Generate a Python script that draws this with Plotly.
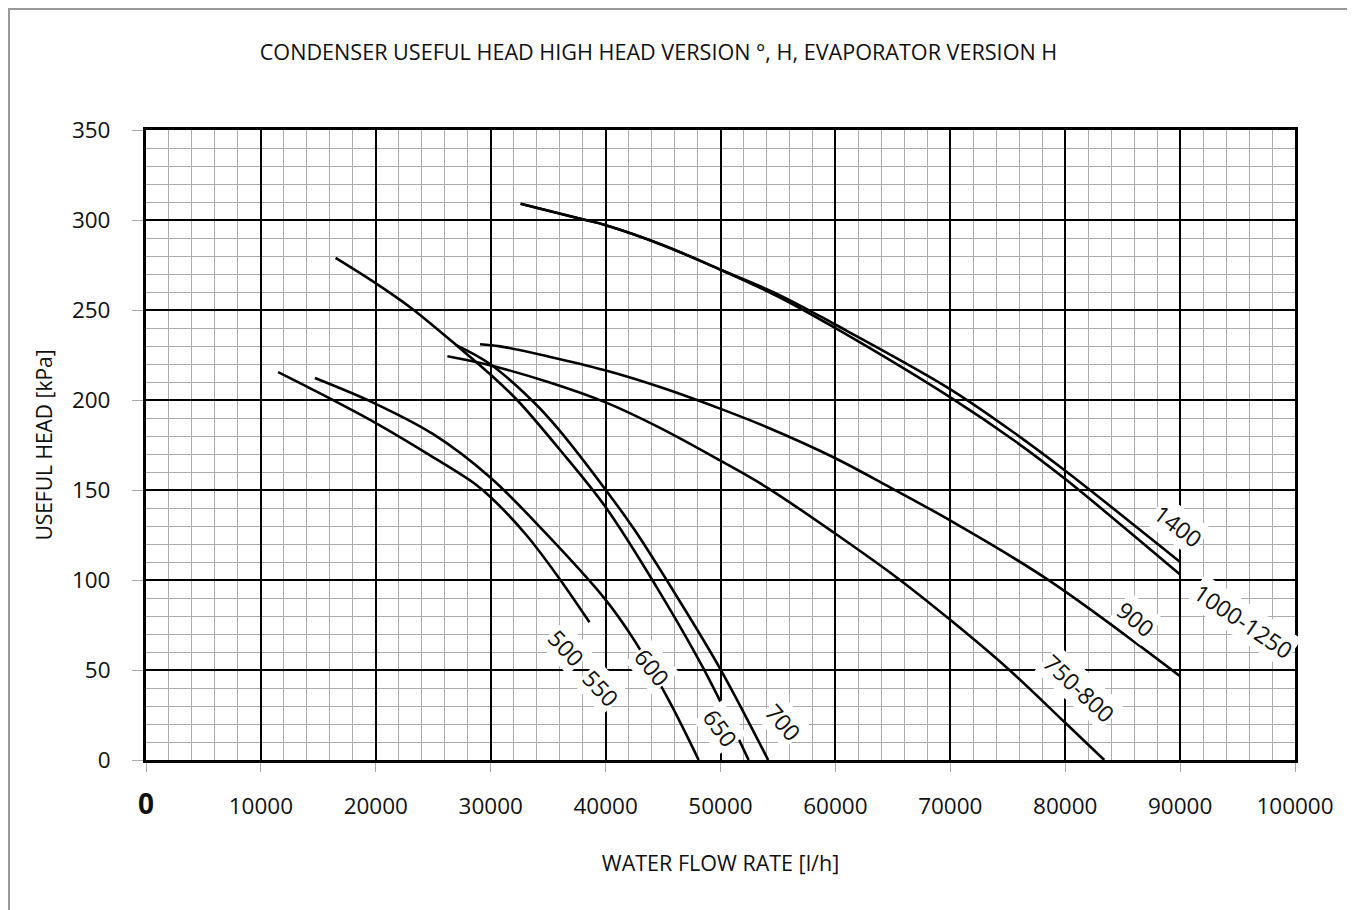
import plotly.graph_objects as go

# ---------------- data ----------------
x_500_550 = [11500, 14500, 19850, 24400, 28500, 30000, 33100, 36000, 38600]
y_500_550 = [215.5, 205.8, 187.7, 170.5, 154, 146, 125, 100.6, 76.5]

x_600 = [14700, 19850, 25000, 29940, 34580, 39950, 42350, 45450, 48100]
y_600 = [212.2, 198.3, 181, 157.1, 127.4, 89.4, 68, 33.8, 0]

x_650 = [16500, 19850, 23100, 27000, 30000, 32300, 36000, 40000, 44400, 48500, 52450]
y_650 = [279, 265.5, 251, 230.5, 214, 200, 172.5, 140.5, 96.5, 51, 0]

x_700 = [27000, 29940, 33710, 36000, 39950, 42500, 45890, 49960, 54150]
y_700 = [230.5, 220, 199, 183, 150.6, 128, 94, 50.8, 0]

x_750_800 = [26230, 29940, 35000, 39950, 44730, 49960, 54020, 59820, 65500, 69910, 74900, 79980, 83400]
y_750_800 = [224.3, 219.3, 210, 198.8, 184.5, 166.4, 151.5, 126.5, 100.6, 78.3, 51.4, 20.8, 0]

x_900 = [29070, 30810, 35000, 39950, 44730, 49960, 54000, 59820, 64750, 69870, 78390, 90000]
y_900 = [231, 229.8, 224.2, 216.5, 207.2, 195.2, 185, 168.2, 151.5, 133.5, 100.6, 46.5]

x_1000_1250 = [32600, 38060, 39950, 45000, 49960, 55000, 59820, 69870, 75780, 79980, 90000]
y_1000_1250 = [309, 300.3, 297.2, 286, 272.5, 257.5, 240.6, 202, 176.5, 156.2, 103]

x_1400 = [32600, 38060, 39950, 45000, 49960, 55000, 59820, 69870, 75780, 79980, 90000]
y_1400 = [309, 300.3, 297.2, 286, 272.5, 258.7, 242.5, 206.5, 180.8, 160.8, 110]

curve_names = ["500 550", "600", "650", "700", "750-800", "900", "1000-1250", "1400"]

# curve labels: text, anchor (data coords), angle
label_texts = ["500", "550", "600", "650", "700", "750-800", "900", "1400", "1000-1250"]
label_x = [36610, 39570, 44060, 50020, 55470, 81200, 86140, 89850, 95500]
label_y = [62.5, 39.9, 51.9, 18, 21.3, 39.9, 78.3, 130.2, 77]
label_angle = [47, 47, 51, 54, 49, 43, 39, 37, 34]

x_tickvals = [0, 10000, 20000, 30000, 40000, 50000, 60000, 70000, 80000, 90000, 100000]
x_ticktext = ['<span style="font-size:28px"><b>0</b></span>', "10000", "20000", "30000", "40000",
              "50000", "60000", "70000", "80000", "90000", "100000"]
y_tickvals = [0, 50, 100, 150, 200, 250, 300, 350]

FONT = "Open Sans"
BODY = 8  # default page margin around the figure
W, H = 1355 - BODY, 910 - BODY
ML, MT = 146 - BODY, 130 - BODY
PW, PH = 1149, 630

fig = go.Figure()
series = [
    (x_500_550, y_500_550), (x_600, y_600), (x_650, y_650), (x_700, y_700),
    (x_750_800, y_750_800), (x_900, y_900), (x_1000_1250, y_1000_1250), (x_1400, y_1400),
]
for name, (xs, ys) in zip(curve_names, series):
    fig.add_trace(go.Scatter(
        x=xs, y=ys, mode="lines", name=name,
        line=dict(color="black", width=2.6, shape="spline", smoothing=1.0),
        showlegend=False, hoverinfo="skip",
    ))

for t, lx, ly, ang in zip(label_texts, label_x, label_y, label_angle):
    fig.add_annotation(
        x=lx, y=ly, xref="x", yref="y", text=t, textangle=ang, showarrow=False,
        font=dict(family=FONT, size=23, color="#111"), bgcolor="white", borderpad=1,
    )

axis_common = dict(
    showline=True, mirror=True, linecolor="black", linewidth=3,
    showgrid=True, gridcolor="black", gridwidth=2, zeroline=False,
    ticks="outside", tickcolor="#aaaaaa", tickwidth=1,
    tickfont=dict(family=FONT, size=22.5, color="#111"),
)

fig.update_xaxes(
    range=[0, 100000], tickvals=x_tickvals, ticktext=x_ticktext, ticklen=9,
    ticklabelstandoff=15,
    minor=dict(dtick=2000, showgrid=True, gridcolor="#ababab", gridwidth=1, ticks=""),
    title=dict(text="WATER FLOW RATE [l/h]", font=dict(family=FONT, size=21.5, color="#111"), standoff=35),
    **axis_common,
)
fig.update_yaxes(
    range=[0, 350], tickvals=y_tickvals, ticklen=11,
    ticklabelstandoff=17,
    minor=dict(dtick=10, showgrid=True, gridcolor="#ababab", gridwidth=1, ticks=""),
    title=dict(text="USEFUL HEAD [kPa]", font=dict(family=FONT, size=21, color="#111"), standoff=14),
    **axis_common,
)

# outer frame of the picture (left, top, right edges)
fig.add_shape(type="rect", xref="paper", yref="paper",
              x0=(1 - ML) / PW, x1=(1340 - ML) / PW,
              y0=-(H - MT - PH + 20) / PH, y1=1 + (MT - 1) / PH,
              line=dict(color="#999999", width=2), layer="below")

fig.update_layout(
    width=W, height=H,
    margin=dict(l=ML, r=W - ML - PW, t=MT, b=H - MT - PH),
    paper_bgcolor="white", plot_bgcolor="white",
    title=dict(text="CONDENSER USEFUL HEAD HIGH HEAD VERSION °, H, EVAPORATOR VERSION H",
               x=(658.5 - BODY) / W, xref="container", xanchor="center",
               y=1 - (52 - BODY) / H, yref="container", yanchor="middle",
               font=dict(family=FONT, size=21.6, color="#111")),
)

fig.write_html("out.html")
